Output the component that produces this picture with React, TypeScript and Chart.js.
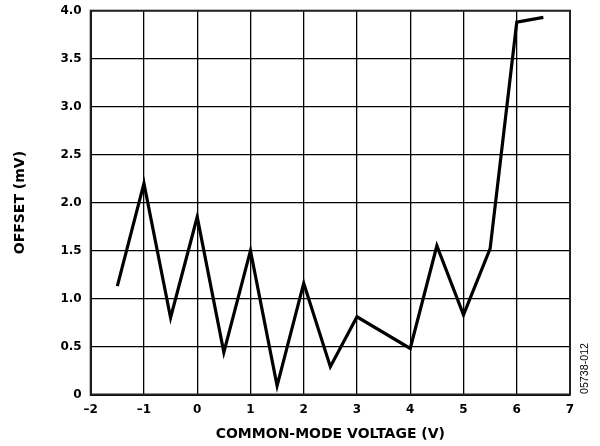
import React, { useEffect, useRef } from "react";
import { Chart, registerables } from "chart.js";

Chart.register(...registerables);

const xValues = [-1.5, -1, -0.5, 0, 0.5, 1, 1.5, 2, 2.5, 3, 4, 4.5, 5, 5.5, 6, 6.5];
const offsetValues = [1.13, 2.2, 0.8, 1.85, 0.44, 1.5, 0.09, 1.16, 0.29, 0.81, 0.48, 1.55, 0.83, 1.52, 3.88, 3.93];
const xTickLabels: Record<string, string> = { "-2": "–2", "-1": "–1" };
const xTitle = "COMMON-MODE VOLTAGE (V)";
const yTitle = "OFFSET (mV)";
const figId = "05738-012";

const FONT = "'DejaVu Sans', sans-serif";
const ID_FONT = "'Liberation Sans', Arial, sans-serif";

export default function App() {
  const ref = useRef<HTMLCanvasElement | null>(null);
  useEffect(() => {
    document.body.style.margin = "0";
    const ctx = ref.current!.getContext("2d")!;
    const textPlugin = {
      id: "texts",
      afterDraw(chart: any) {
        const c = chart.ctx;
        const area = chart.chartArea;
        c.save();
        c.fillStyle = "#000";
        c.font = `bold 14px ${FONT}`;
        c.textAlign = "center";
        c.textBaseline = "middle";
        c.fillText(xTitle, (area.left + area.right) / 2, 434);
        c.save();
        c.translate(20, (area.top + area.bottom) / 2);
        c.rotate(-Math.PI / 2);
        c.fillText(yTitle, 0, 0);
        c.restore();
        c.save();
        c.font = `10.7px ${ID_FONT}`;
        c.translate(585, 368.5);
        c.rotate(-Math.PI / 2);
        c.fillText(figId, 0, 0);
        c.restore();
        c.restore();
      },
    };
    const chart = new Chart(ctx, {
      type: "line",
      data: {
        datasets: [
          {
            data: xValues.map((x, i) => ({ x, y: offsetValues[i] })),
            borderColor: "#000",
            borderWidth: 3.2,
            pointRadius: 0,
            tension: 0,
            fill: false,
          },
        ],
      },
      options: {
        animation: false,
        responsive: false,
        devicePixelRatio: 1,
        layout: { padding: { top: 10.7, right: 30, left: 0, bottom: 0 } },
        plugins: { legend: { display: false }, tooltip: { enabled: false } },
        scales: {
          x: {
            type: "linear",
            min: -2,
            max: 7,
            border: { display: true, color: "#000", width: 2 },
            grid: { color: "#000", lineWidth: 1.3, drawTicks: false },
            ticks: {
              stepSize: 1,
              padding: 8,
              color: "#000",
              font: { family: FONT, size: 12, weight: "bold" },
              callback: (v: any) => xTickLabels[String(v)] ?? String(v),
            },
            afterFit: (s: any) => {
              s.height = 51.5;
              s.paddingLeft = 0;
              s.paddingRight = 0;
            },
          },
          y: {
            type: "linear",
            min: 0,
            max: 4,
            border: { display: true, color: "#000", width: 2 },
            grid: { color: "#000", lineWidth: 1.3, drawTicks: false },
            ticks: {
              stepSize: 0.5,
              padding: 9,
              color: "#000",
              font: { family: FONT, size: 12, weight: "bold" },
              callback: (v: any) => (v === 0 ? "0" : Number(v).toFixed(1)),
            },
            afterFit: (s: any) => {
              s.width = 90.7;
              s.paddingTop = 0;
              s.paddingBottom = 0;
            },
          },
        },
      },
      plugins: [
        textPlugin,
        {
          id: "frame",
          afterDraw(chart: any) {
            const c = chart.ctx;
            const a = chart.chartArea;
            c.save();
            c.strokeStyle = "#222";
            c.lineWidth = 2;
            c.strokeRect(a.left, a.top, a.right - a.left, a.bottom - a.top);
            c.restore();
          },
        },
      ],
    });
    return () => chart.destroy();
  }, []);
  return (
    <div style={{ position: "relative", width: 600, height: 446 }}>
      <canvas ref={ref} width={600} height={446} style={{ display: "block" }} />
    </div>
  );
}
